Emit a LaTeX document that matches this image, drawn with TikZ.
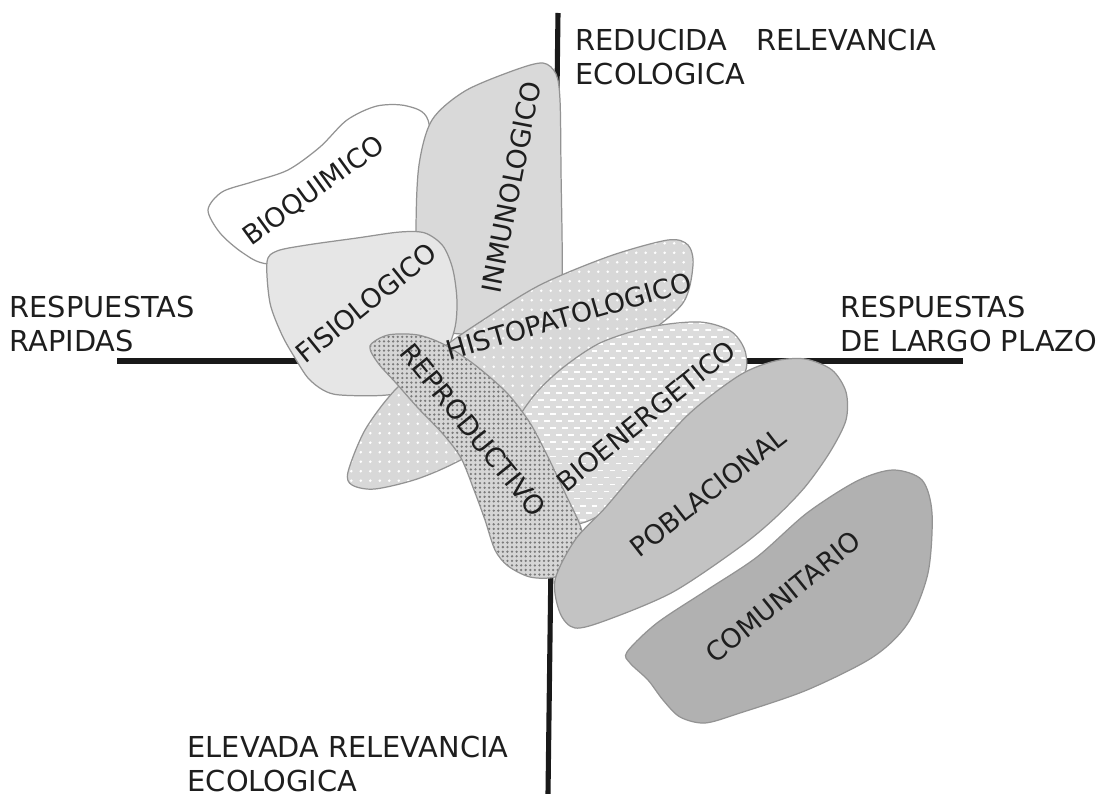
\documentclass[tikz,border=0pt]{standalone}
\usepackage{fontspec}
\setmainfont{DejaVu Sans}
\usetikzlibrary{patterns.meta}

\definecolor{edgegray}{HTML}{939393}
\definecolor{inkgray}{HTML}{1E1E1E}
\definecolor{inmunofill}{HTML}{D9D9D9}
\definecolor{fisiofill}{HTML}{E6E6E6}
\definecolor{histofill}{HTML}{D8D8D8}
\definecolor{energfill}{HTML}{DCDCDC}
\definecolor{reprofill}{HTML}{D6D6D6}
\definecolor{reprodot}{HTML}{7A7A7A}
\definecolor{poblafill}{HTML}{C3C3C3}
\definecolor{comunfill}{HTML}{B1B1B1}

% textures
\tikzdeclarepattern{name=fewdots, type=uncolored,
  bounding box={(-0.5pt,-0.5pt) and (0.5pt,0.5pt)}, tile size={(2.7pt,2.7pt)},
  code={\fill (0pt,0pt) circle (0.4pt);}}
\tikzdeclarepattern{name=finedots, type=uncolored,
  bounding box={(-0.4pt,-0.4pt) and (0.4pt,0.4pt)}, tile size={(1.3pt,1.3pt)},
  code={\fill (0pt,0pt) circle (0.36pt);}}
\tikzdeclarepattern{name=whitedash, type=uncolored,
  bounding box={(0pt,-0.3pt) and (3.4pt,2.3pt)}, tile size={(3.4pt,4pt)},
  code={\fill (0pt,-0.25pt) rectangle (1.6pt,0.25pt); \fill (1.7pt,1.75pt) rectangle (3.3pt,2.25pt);}}

\begin{document}
\begin{tikzpicture}[x=0.01cm, y=-0.01cm,
    blob/.style={draw=edgegray, line width=0.35pt},
    axisline/.style={line width=1.45pt, black!90},
    tag/.style={font=\fontsize{7.6}{9}\selectfont, text=inkgray, inner sep=0pt},
    axlabel/.style={font=\fontsize{8.2}{9.8}\selectfont, text=inkgray, align=left, anchor=north west, inner sep=0pt}]
  \useasboundingbox (0,0) rectangle (1106,794);
  %
  \draw[axisline] (558,13) -- (548,794);
  \draw[axisline] (117,361) -- (963,361);
  %
  \draw[blob, fill=white] plot[smooth cycle] coordinates {(208,210) (222,192) (252,182) (288,170) (320,147) (347,120) (377,106) (407,106) (428,120) (432,180) (420,240) (330,262) (268,264) (243,253) (220,233)};
  \draw[blob, fill=inmunofill] plot[smooth cycle] coordinates {(418,320) (416,230) (419,165) (432,120) (465,91) (515,70) (543,63) (556,74) (560,100) (561,170) (562,280) (555,330) (480,335)};
  \draw[blob, fill=fisiofill] plot[smooth cycle] coordinates {(267,262) (277,251) (307,245) (357,238) (400,232) (425,233) (443,246) (453,270) (457,303) (453,335) (430,385) (387,395) (340,395) (323,390) (308,378) (295,358) (282,335) (270,303)};
  \draw[blob, preaction={fill=histofill}, pattern=fewdots, pattern color=white] plot[smooth cycle] coordinates {(348,472) (365,430) (395,390) (440,350) (480,322) (540,285) (610,256) (668,240) (688,245) (693,265) (683,303) (640,340) (560,400) (470,455) (420,478) (375,489) (352,485)};
  \draw[blob, preaction={fill=energfill}, pattern=whitedash, pattern color=white] plot[smooth cycle] coordinates {(515,430) (532,398) (560,370) (600,343) (650,327) (700,322) (732,332) (746,355) (738,385) (665,465) (600,515) (565,522) (525,480)};
  \draw[blob, preaction={fill=reprofill}, pattern=finedots, pattern color=reprodot] plot[smooth cycle] coordinates {(370,346) (388,335) (418,335) (445,345) (475,365) (507,393) (530,423) (547,455) (566,495) (580,525) (585,548) (578,564) (555,577) (530,577) (508,566) (495,550) (485,520) (474,490) (461,458) (443,434) (418,408) (396,383) (378,363)};
  \draw[blob, fill=poblafill] plot[smooth cycle] coordinates {(560,613) (555,580) (575,540) (605,508) (640,467) (690,413) (740,375) (775,361) (805,359) (832,370) (846,392) (846,420) (830,452) (805,487) (775,518) (740,547) (673,592) (607,620) (575,628)};
  \draw[blob, fill=comunfill] plot[smooth cycle] coordinates {(627,652) (657,623) (707,590) (757,557) (807,513) (857,481) (893,470) (922,480) (932,513) (928,573) (908,623) (873,657) (807,690) (740,713) (705,723) (680,717) (663,700) (648,680) (630,663)};
  %
  \foreach \x/\y/\ang/\txt/\nm in {314/191/36/BIOQUIMICO/bioq, 511/187/79/INMUNOLOGICO/inmuno,
      366/303/39/FISIOLOGICO/fisio, 569/316/16/HISTOPATOLOGICO/histo, 473/430/-51/REPRODUCTIVO/repro,
      646/416/39/BIOENERGETICO/energ, 708/492/38/POBLACIONAL/pobla, 783/597/39/COMUNITARIO/comun}
    \node[tag, rotate=\ang] (\nm) at (\x,\y) {\txt};
  %
  \node[axlabel] (topaxis) at (575,28) {REDUCIDA\quad RELEVANCIA\\ECOLOGICA};
  \node[axlabel] (botaxis) at (187,735) {ELEVADA RELEVANCIA\\ECOLOGICA};
  \node[axlabel] (leftaxis) at (9,295) {RESPUESTAS\\RAPIDAS};
  \node[axlabel] (rightaxis) at (840,295) {RESPUESTAS\\DE LARGO PLAZO};
\end{tikzpicture}
\end{document}
